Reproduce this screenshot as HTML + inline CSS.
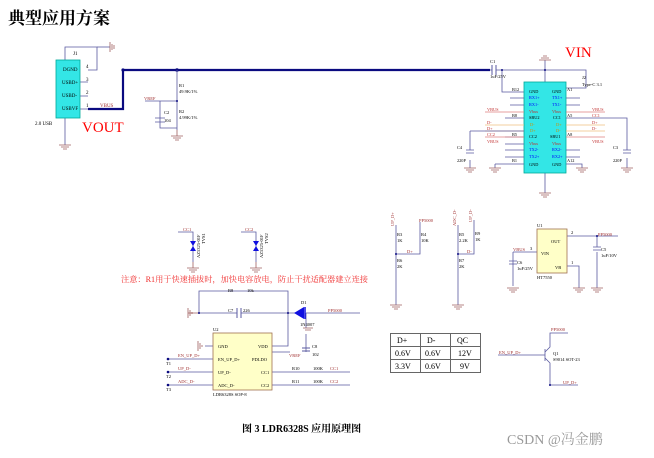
<!DOCTYPE html>
<html><head><meta charset="utf-8"><style>
html,body{margin:0;padding:0;background:#fff;width:654px;height:458px;overflow:hidden}
svg{display:block}
text{font-family:"Liberation Serif","Noto Serif CJK SC",serif}
</style></head><body>
<svg width="654" height="458" viewBox="0 0 654 458" xmlns="http://www.w3.org/2000/svg">
<text x="8" y="24" font-size="17" font-weight="bold" font-family="'Noto Sans CJK SC',sans-serif" fill="#000">典型应用方案</text>

<!-- J1 -->
<g stroke="#5a5aa0" stroke-width="0.8" fill="none">
<path d="M65 60V47H97V70H88"/><path d="M97 47H110"/>
<path d="M88 82H80M88 96H80M88 109H80M65 118V145"/>
</g>
<g stroke="#a06060" fill="none" stroke-width="0.8"><path d="M110 42V52M112 44V50M114 45V49"/><path d="M59 145H71M61 147H69M63 149H67"/></g>
<rect x="56" y="60" width="24" height="58" fill="#33e6e6" stroke="#0a9" stroke-width="0.8"/>
<g font-size="5" fill="#000"><text x="63" y="71">DGND</text><text x="62" y="84">USBD+</text><text x="62" y="97">USBD-</text><text x="62" y="110">USBVF</text>
<text x="86" y="68">4</text><text x="86" y="81">3</text><text x="86" y="94">2</text><text x="86" y="107">1</text><text x="73" y="55">J1</text><text x="35" y="125">2.0 USB</text></g>
<text x="100" y="107" font-size="5" fill="#a03030">VBUS</text>
<text x="82" y="132" font-size="15" fill="#f00">VOUT</text>
<path d="M88 109H123V70H490" stroke="#0a0a80" stroke-width="2.2" fill="none"/>
<circle cx="123" cy="70" r="1.6" fill="#0a0a80"/><circle cx="177" cy="70" r="1.8" fill="#0a0a80"/>
<!-- R1 R2 -->
<g stroke="#5a5aa0" stroke-width="0.8" fill="none"><path d="M177 70V130M145 101H177M160 101V128H177"/><path d="M155 118H165M155 122H165"/></g>
<circle cx="177" cy="101" r="1" fill="#0a0a80"/>
<g stroke="#a06060" fill="none" stroke-width="0.8"><path d="M177 130V136M171 136H183M173 138H181M175 140H179"/></g>
<g font-size="4.5" fill="#000"><text x="179" y="87">R1</text><text x="179" y="93">49.9K/1%</text><text x="179" y="113">R2</text><text x="179" y="119">4.99K/1%</text><text x="164" y="114">C2</text><text x="164" y="122">104</text></g>
<text x="144" y="100" font-size="4.5" fill="#a03030">VREF</text>

<!-- C1 and J2 -->
<g stroke="#5a5aa0" stroke-width="0.8" fill="none">
<path d="M490 70H492M496 70H586V88H566"/><path d="M502 70V92H524"/><path d="M545 60V82M545 173V193"/>
</g>
<path d="M492 65V75M496 65V75" stroke="#5a5aa0" stroke-width="1"/>
<circle cx="502" cy="70" r="1" fill="#0a0a80"/><circle cx="545" cy="70" r="1" fill="#0a0a80"/>
<g stroke="#a06060" fill="none" stroke-width="0.8"><path d="M539 60H551M541 58H549M543 56H547M539 193H551M541 195H549M543 197H547"/></g>
<text x="565" y="57" font-size="15" fill="#f00">VIN</text>
<g font-size="4.5" fill="#000"><text x="490" y="63">C1</text><text x="490" y="78">1uF/25V</text><text x="582" y="79">J2</text><text x="582" y="86">Type-C 3.1</text></g>
<rect x="524" y="82" width="42" height="91" fill="#33e6e6" stroke="#0a9" stroke-width="0.8"/>
<g stroke-width="0.8" fill="none">
<path d="M510 98H524M510 105H524M505 137H524M505 144H524M566 98H580M566 105H580M566 150H580M566 157H580" stroke="#5a5aa0"/>
<path d="M485 112H524M485 137H524M566 112H605M566 137H605" stroke="#e08080"/>
<path d="M485 125H524M485 131H524M566 125H605M566 131H605" stroke="#f0c080"/>
<path d="M505 118H524M566 118H627V150M566 164H582V168M470 131H524M470 131V150M495 164H524V164M495 164V168M505 150H524M505 157H524" stroke="#5a5aa0"/>
<path d="M470 160V168M627 158V168" stroke="#5a5aa0"/><path d="M466 150H474M466 153H474M623 150H631M623 153H631" stroke="#5a5aa0"/>
</g>
<g stroke="#a06060" fill="none" stroke-width="0.8"><path d="M464 168H476M466 170H474M468 172H472M489 168H501M491 170H499M493 172H497M576 168H588M578 170H586M580 172H584M621 168H633M623 170H631M625 172H629"/></g>
<g font-size="4.3" fill="#000"><text x="529" y="93">GND</text><text x="552" y="93">GND</text><text x="529" y="119">SBU2</text><text x="553" y="119">CC1</text><text x="529" y="138">CC2</text><text x="550" y="138">SBU1</text><text x="529" y="166">GND</text><text x="552" y="166">GND</text>
<text x="512" y="91">B12</text><text x="512" y="117">B8</text><text x="512" y="136">B5</text><text x="512" y="162">B1</text><text x="567" y="91">A1</text><text x="567" y="117">A5</text><text x="567" y="136">A8</text><text x="567" y="162">A12</text>
<text x="457" y="149">C4</text><text x="457" y="162">220P</text><text x="613" y="149">C3</text><text x="613" y="162">220P</text></g>
<g font-size="4.3" fill="#00f"><text x="529" y="99">RX1+</text><text x="529" y="106">RX1-</text><text x="529" y="151">TX2-</text><text x="529" y="158">TX2+</text><text x="552" y="99">TX1+</text><text x="552" y="106">TX1-</text><text x="552" y="151">RX2-</text><text x="552" y="158">RX2+</text></g>
<g font-size="4.3" fill="#c03030"><text x="529" y="113">Vbus</text><text x="529" y="145">Vbus</text><text x="552" y="113">Vbus</text><text x="552" y="145">Vbus</text><text x="487" y="111">VBUS</text><text x="487" y="143">VBUS</text><text x="592" y="111">VBUS</text><text x="592" y="143">VBUS</text><text x="487" y="124">D-</text><text x="487" y="130">D+</text><text x="592" y="117">CC1</text><text x="592" y="124">D+</text><text x="592" y="130">D-</text><text x="487" y="136">CC2</text></g>
<g font-size="4.3" fill="#d09000"><text x="530" y="126">D-</text><text x="530" y="132">D+</text><text x="556" y="126">D+</text><text x="556" y="132">D-</text></g>

<!-- TVS -->
<g stroke="#5a5aa0" stroke-width="0.8" fill="none"><path d="M178 232H193V262M241 232H256V262"/></g>
<path d="M190 241H196L193 246ZM190 251H196L193 246ZM253 241H259L256 246ZM253 251H259L256 246Z" fill="#1010e0"/>
<g stroke="#a06060" fill="none" stroke-width="0.8"><path d="M187 268H199M189 270H197M191 272H195M250 268H262M252 270H260M254 272H258M193 262V268M256 262V268"/></g>
<g font-size="4.5" fill="#a03030"><text x="183" y="231">CC1</text><text x="245" y="231">CC2</text></g>
<g font-size="4.5" fill="#000"><text transform="translate(200,258) rotate(-90)">AZ5325-01F</text><text transform="translate(205,244) rotate(-90)">TVS1</text><text transform="translate(263,258) rotate(-90)">AZ5325-01F</text><text transform="translate(268,244) rotate(-90)">TVS2</text></g>
<text x="121" y="282" font-size="8.2" fill="#f03030" font-family="'Noto Sans CJK SC',sans-serif">注意：R1用于快速插拔时，加快电容放电，防止干扰适配器建立连接</text>

<!-- U2 -->
<g stroke="#5a5aa0" stroke-width="0.8" fill="none">
<path d="M199 313V291H288V346H272M199 313H237M241 313H288H300M306 313H360M306 313V328M306 334V352M290 352H272"/>
<path d="M205 346H213M168 359H213M168 372H213M168 385H213M272 372H350M272 385H350"/>
</g>
<path d="M237 308V318M241 308V318M302 348H310M302 351H310" stroke="#5a5aa0" stroke-width="1"/>
<path d="M294 313L304 307V319Z" fill="#1010e0"/><path d="M305 307V319" stroke="#1010e0" stroke-width="1.5"/>
<g stroke="#a06060" fill="none" stroke-width="0.8"><path d="M188 308V318M190 310V316M192 312V314M199 313H188M198 341V351M200 343V349M202 345V347M305 330H311M303 328H313"/></g>
<circle cx="199" cy="313" r="1" fill="#0a0a80"/><circle cx="288" cy="313" r="1" fill="#0a0a80"/>
<circle cx="168" cy="359" r="1.3" fill="#0a0a80"/><circle cx="168" cy="372" r="1.3" fill="#0a0a80"/><circle cx="168" cy="385" r="1.3" fill="#0a0a80"/>
<rect x="213" y="333" width="59" height="57" fill="#ffffc8" stroke="#a07050" stroke-width="0.8"/>
<g font-size="4.5" fill="#000"><text x="218" y="348">GND</text><text x="218" y="361">EN_UP_D+</text><text x="218" y="374">UP_D-</text><text x="218" y="387">ADC_D-</text><text x="258" y="348">VDD</text><text x="252" y="361">PDLDO</text><text x="261" y="374">CC1</text><text x="261" y="387">CC2</text>
<text x="213" y="331">U2</text><text x="213" y="396">LDR6328S SOP-8</text><text x="228" y="292">R8</text><text x="247" y="292">10k</text><text x="228" y="312">C7</text><text x="243" y="312">226</text><text x="301" y="304">D1</text><text x="300" y="326">1N4007</text><text x="312" y="348">C8</text><text x="312" y="356">102</text>
<text x="166" y="365">T1</text><text x="166" y="378">T2</text><text x="166" y="391">T3</text><text x="292" y="370">R10</text><text x="313" y="370">100K</text><text x="292" y="383">R11</text><text x="313" y="383">100K</text></g>
<g font-size="4.5" fill="#a03030"><text x="328" y="312">PP5000</text><text x="178" y="357">EN_UP_D+</text><text x="178" y="370">UP_D-</text><text x="178" y="383">ADC_D-</text><text x="289" y="357">VREF</text><text x="330" y="370">CC1</text><text x="330" y="383">CC2</text></g>

<!-- resistor dividers -->
<g stroke="#5a5aa0" stroke-width="0.8" fill="none"><path d="M396 225V305M420 222V254H396M458 225V305M474 220V254H458"/></g>
<g stroke="#a06060" fill="none" stroke-width="0.8"><path d="M390 305H402M392 307H400M394 309H398M452 305H464M454 307H462M456 309H460"/></g>
<circle cx="396" cy="254" r="1" fill="#0a0a80"/><circle cx="458" cy="254" r="1" fill="#0a0a80"/>
<g font-size="4.5" fill="#000"><text x="397" y="236">R3</text><text x="397" y="242">1K</text><text x="421" y="236">R4</text><text x="421" y="242">10K</text><text x="397" y="262">R6</text><text x="397" y="268">2K</text><text x="459" y="236">R5</text><text x="459" y="242">2.2K</text><text x="475" y="235">R9</text><text x="475" y="241">1K</text><text x="459" y="262">R7</text><text x="459" y="268">2K</text></g>
<g font-size="4.5" fill="#a03030"><text x="419" y="222">PP5000</text><text x="407" y="253">D+</text><text x="467" y="253">D-</text><text transform="translate(394,226) rotate(-90)">UP_D+</text><text transform="translate(456,226) rotate(-90)">ADC_D-</text><text transform="translate(472,222) rotate(-90)">UP_D-</text></g>

<!-- table -->
<g stroke="#666" stroke-width="1" fill="none"><rect x="390.5" y="333.5" width="90" height="39"/><path d="M390 346.5H481M390 359.5H481M420.5 333V373M450.5 333V373"/></g>
<g font-size="8" fill="#000"><text x="397" y="343">D+</text><text x="427" y="343">D-</text><text x="457" y="343">QC</text><text x="395" y="356">0.6V</text><text x="425" y="356">0.6V</text><text x="458" y="356">12V</text><text x="395" y="369">3.3V</text><text x="425" y="369">0.6V</text><text x="460" y="369">9V</text></g>

<!-- U1 -->
<g stroke="#5a5aa0" stroke-width="0.8" fill="none"><path d="M513 252H537M513 252V286M567 236H618M597 236V247M597 252V288M567 266H579V288"/><path d="M509 261H517M509 264H517M593 247H601M593 250H601"/></g>
<circle cx="597" cy="236" r="1" fill="#0a0a80"/>
<g stroke="#a06060" fill="none" stroke-width="0.8"><path d="M507 288H519M509 290H517M511 292H515M573 288H585M575 290H583M577 292H581M591 288H603M593 290H601M595 292H599"/></g>
<rect x="537" y="229" width="30" height="44" fill="#ffffc8" stroke="#a07050" stroke-width="0.8"/>
<g font-size="4.5" fill="#000"><text x="551" y="243">OUT</text><text x="541" y="255">VIN</text><text x="555" y="269">VB</text><text x="537" y="227">U1</text><text x="537" y="279">HT7550</text><text x="571" y="234">2</text><text x="530" y="250">3</text><text x="571" y="264">1</text><text x="517" y="264">C6</text><text x="517" y="270">1uF/25V</text><text x="601" y="251">C5</text><text x="601" y="257">1uF/10V</text></g>
<g font-size="4.5" fill="#a03030"><text x="513" y="251">VBUS</text><text x="598" y="236">PP5000</text></g>

<!-- Q1 -->
<g stroke="#5a5aa0" stroke-width="0.8" fill="none"><path d="M498 355H545M545 349V361M545 352L550 347V333H568M545 358L550 363V385H578"/></g>
<circle cx="550" cy="385" r="1" fill="#0a0a80"/>
<g font-size="4.5" fill="#000"><text x="553" y="355">Q1</text><text x="553" y="361">S9014 SOT-23</text></g>
<g font-size="4.5" fill="#a03030"><text x="551" y="331">PP5000</text><text x="499" y="354">EN_UP_D+</text><text x="563" y="384">UP_D+</text></g>

<text x="242" y="432" font-size="10" font-weight="bold" font-family="'Noto Sans CJK SC',sans-serif" fill="#000">图 3  LDR6328S 应用原理图</text>
<text x="507" y="444" font-size="14" fill="#999" font-family="'Liberation Sans','Noto Sans CJK SC',sans-serif">CSDN @冯金鹏</text>
</svg>
</body></html>
